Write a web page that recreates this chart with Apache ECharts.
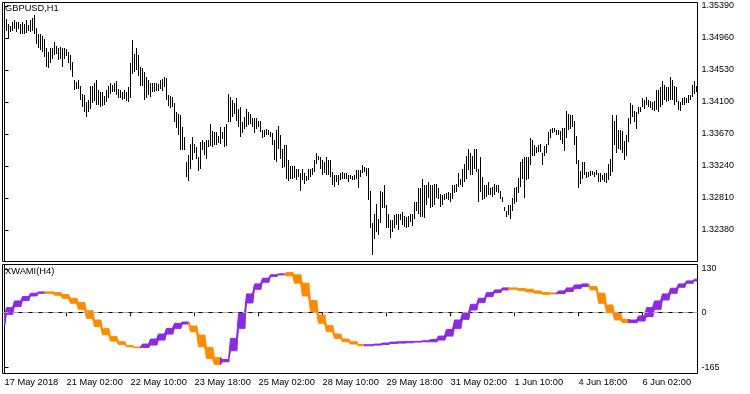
<!DOCTYPE html>
<html><head><meta charset="utf-8">
<script src="https://cdn.jsdelivr.net/npm/echarts@6/dist/echarts.min.js"></script>
<style>html,body{margin:0;padding:0;background:#fff}#c{width:750px;height:394px}</style>
</head><body><div id="c"></div>
<script>
const FONT = '"Liberation Sans", Arial, sans-serif';

// GBPUSD H1 bar highs / lows (bar 0 = first visible bar)
const highs = [
1.3524,1.3521,1.3515,1.3512,1.3518,1.3520,1.3518,1.3518,1.3515,1.3517,
1.3515,1.3520,1.3513,1.3520,1.3523,1.3527,1.3509,1.3502,1.3501,1.3499,
1.3495,1.3482,1.3477,1.3482,1.3483,1.3490,1.3485,1.3482,1.3484,1.3482,
1.3482,1.3481,1.3477,1.3473,1.3464,1.3439,1.3437,1.3439,1.3432,1.3421,
1.3419,1.3410,1.3412,1.3432,1.3432,1.3435,1.3439,1.3426,1.3423,1.3423,
1.3418,1.3426,1.3432,1.3435,1.3433,1.3436,1.3438,1.3427,1.3426,1.3423,
1.3426,1.3424,1.3430,1.3462,1.3493,1.3475,1.3482,1.3473,1.3457,1.3455,
1.3450,1.3444,1.3439,1.3435,1.3436,1.3435,1.3436,1.3434,1.3439,1.3441,
1.3444,1.3442,1.3419,1.3418,1.3417,1.3408,1.3397,1.3394,1.3392,1.3376,
1.3363,1.3329,1.3339,1.3354,1.3363,1.3354,1.3350,1.3336,1.3356,1.3359,
1.3356,1.3359,1.3359,1.3381,1.3371,1.3370,1.3370,1.3364,1.3376,1.3369,
1.3376,1.3381,1.3421,1.3417,1.3412,1.3408,1.3415,1.3401,1.3403,1.3383,
1.3390,1.3401,1.3397,1.3394,1.3388,1.3388,1.3388,1.3385,1.3384,1.3372,
1.3372,1.3374,1.3372,1.3370,1.3368,1.3359,1.3373,1.3378,1.3365,1.3347,
1.3352,1.3352,1.3332,1.3324,1.3324,1.3324,1.3320,1.3320,1.3314,1.3320,
1.3314,1.3311,1.3320,1.3320,1.3321,1.3332,1.3341,1.3338,1.3336,1.3332,
1.3329,1.3336,1.3332,1.3332,1.3316,1.3312,1.3312,1.3312,1.3314,1.3316,
1.3314,1.3314,1.3312,1.3312,1.3311,1.3312,1.3318,1.3318,1.3318,1.3325,
1.3323,1.3321,1.3321,1.3291,1.3247,1.3260,1.3273,1.3253,1.3291,1.3289,
1.3298,1.3272,1.3259,1.3251,1.3251,1.3258,1.3260,1.3259,1.3260,1.3262,
1.3257,1.3256,1.3257,1.3260,1.3259,1.3275,1.3276,1.3294,1.3294,1.3306,
1.3298,1.3298,1.3302,1.3299,1.3298,1.3300,1.3300,1.3294,1.3286,1.3285,
1.3286,1.3287,1.3289,1.3287,1.3298,1.3298,1.3300,1.3314,1.3307,1.3320,
1.3327,1.3338,1.3347,1.3341,1.3338,1.3347,1.3347,1.3320,1.3336,1.3309,
1.3298,1.3298,1.3303,1.3294,1.3296,1.3300,1.3298,1.3298,1.3291,1.3282,
1.3269,1.3264,1.3271,1.3272,1.3281,1.3294,1.3296,1.3308,1.3329,1.3333,
1.3336,1.3336,1.3336,1.3361,1.3359,1.3352,1.3350,1.3352,1.3353,1.3341,
1.3351,1.3354,1.3370,1.3374,1.3375,1.3375,1.3373,1.3372,1.3371,1.3375,
1.3375,1.3398,1.3394,1.3392,1.3393,1.3385,1.3364,1.3332,1.3317,1.3329,
1.3330,1.3316,1.3316,1.3317,1.3317,1.3316,1.3319,1.3315,1.3314,1.3312,
1.3314,1.3314,1.3327,1.3333,1.3392,1.3384,1.3392,1.3372,1.3373,1.3371,
1.3357,1.3365,1.3388,1.3408,1.3406,1.3398,1.3397,1.3403,1.3403,1.3415,
1.3412,1.3417,1.3412,1.3411,1.3410,1.3411,1.3426,1.3426,1.3430,1.3438,
1.3433,1.3430,1.3430,1.3444,1.3439,1.3432,1.3430,1.3411,1.3410,1.3415,
1.3417,1.3415,1.3419,1.3420,1.3433,1.3438,1.3432
];
const lows = [
1.3502,1.3506,1.3495,1.3504,1.3506,1.3508,1.3504,1.3508,1.3502,1.3502,
1.3501,1.3503,1.3505,1.3504,1.3505,1.3501,1.3488,1.3482,1.3480,1.3477,
1.3471,1.3457,1.3455,1.3463,1.3468,1.3473,1.3474,1.3466,1.3468,1.3457,
1.3468,1.3472,1.3463,1.3453,1.3444,1.3426,1.3428,1.3427,1.3412,1.3403,
1.3397,1.3390,1.3396,1.3401,1.3409,1.3411,1.3406,1.3406,1.3403,1.3405,
1.3406,1.3410,1.3415,1.3421,1.3423,1.3424,1.3419,1.3415,1.3415,1.3412,
1.3414,1.3411,1.3410,1.3415,1.3448,1.3450,1.3453,1.3445,1.3432,1.3432,
1.3412,1.3415,1.3419,1.3417,1.3423,1.3424,1.3425,1.3425,1.3428,1.3425,
1.3430,1.3412,1.3405,1.3402,1.3403,1.3383,1.3375,1.3365,1.3345,1.3346,
1.3345,1.3309,1.3304,1.3320,1.3332,1.3342,1.3334,1.3317,1.3320,1.3345,
1.3339,1.3333,1.3350,1.3351,1.3350,1.3352,1.3352,1.3355,1.3354,1.3360,
1.3350,1.3351,1.3383,1.3383,1.3390,1.3394,1.3385,1.3376,1.3363,1.3368,
1.3374,1.3376,1.3379,1.3381,1.3376,1.3368,1.3374,1.3376,1.3370,1.3361,
1.3363,1.3365,1.3366,1.3363,1.3352,1.3332,1.3329,1.3347,1.3334,1.3321,
1.3323,1.3307,1.3304,1.3307,1.3306,1.3308,1.3305,1.3309,1.3290,1.3305,
1.3300,1.3304,1.3305,1.3309,1.3312,1.3316,1.3327,1.3332,1.3320,1.3312,
1.3314,1.3312,1.3312,1.3309,1.3298,1.3296,1.3303,1.3298,1.3305,1.3307,
1.3306,1.3307,1.3303,1.3306,1.3305,1.3305,1.3307,1.3294,1.3309,1.3314,
1.3316,1.3311,1.3278,1.3240,1.3204,1.3226,1.3235,1.3231,1.3247,1.3267,
1.3267,1.3240,1.3240,1.3227,1.3235,1.3240,1.3244,1.3238,1.3251,1.3244,
1.3242,1.3241,1.3242,1.3249,1.3243,1.3253,1.3264,1.3259,1.3256,1.3256,
1.3254,1.3271,1.3281,1.3267,1.3269,1.3271,1.3281,1.3279,1.3269,1.3272,
1.3278,1.3280,1.3278,1.3276,1.3280,1.3287,1.3289,1.3296,1.3298,1.3296,
1.3303,1.3307,1.3318,1.3312,1.3312,1.3320,1.3316,1.3276,1.3289,1.3278,
1.3280,1.3282,1.3285,1.3285,1.3282,1.3285,1.3289,1.3287,1.3280,1.3276,
1.3264,1.3256,1.3258,1.3253,1.3264,1.3273,1.3276,1.3287,1.3296,1.3307,
1.3281,1.3305,1.3307,1.3325,1.3338,1.3338,1.3341,1.3343,1.3343,1.3325,
1.3337,1.3341,1.3352,1.3361,1.3368,1.3370,1.3366,1.3365,1.3359,1.3354,
1.3344,1.3361,1.3372,1.3374,1.3376,1.3352,1.3327,1.3294,1.3300,1.3307,
1.3312,1.3308,1.3309,1.3311,1.3312,1.3309,1.3312,1.3303,1.3302,1.3305,
1.3303,1.3301,1.3305,1.3311,1.3316,1.3352,1.3341,1.3347,1.3345,1.3341,
1.3332,1.3338,1.3356,1.3381,1.3390,1.3383,1.3374,1.3394,1.3397,1.3403,
1.3401,1.3406,1.3403,1.3402,1.3399,1.3398,1.3399,1.3396,1.3403,1.3406,
1.3412,1.3410,1.3411,1.3412,1.3412,1.3406,1.3410,1.3399,1.3398,1.3406,
1.3406,1.3408,1.3409,1.3412,1.3417,1.3421,1.3423
];

// XWAMI(H4): one value per H4 bar (4 H1 bars each)
const xwamiMain = [
-8,14,34,47,57,61,57,51,42,27,
9,-18,-43,-67,-86,-96,-103,-106,-95,-80,
-65,-48,-33,-29,-58,-103,-138,-156,-141,-78,
-3,55,85,102,112,115,109,87,49,2,
-33,-58,-78,-88,-95,-100,-97,-95,-92,-89,
-88,-87,-87,-85,-81,-71,-51,-23,-1,24,
42,59,67,73,69,65,61,57,54,55,
64,73,82,85,67,27,-1,-23,-31,-23,
-11,14,34,55,72,85,94,99
];
const xwamiSignal = [
-38,-6,17,35,49,57,61,59,53,42,
29,5,-23,-49,-72,-88,-99,-104,-105,-98,
-83,-65,-48,-35,-41,-68,-105,-136,-148,-115,
-48,28,69,90,107,112,119,112,87,35,
-8,-40,-65,-80,-88,-96,-100,-98,-96,-93,
-92,-91,-89,-88,-88,-83,-71,-48,-21,7,
29,47,59,67,73,71,69,64,59,58,
56,62,71,77,77,57,22,-3,-21,-31,
-26,-13,9,37,57,75,87,94
];

const priceTicks = [1.32380,1.32810,1.33240,1.33670,1.34100,1.34530,1.34960,1.35390];
const levelTicks = [130, 0, -165];
const timeTickBars = [0,31,63,95,127,159,191,223,255,287,319];
const timeTickLabels = ['17 May 2018','21 May 02:00','22 May 10:00','23 May 18:00','25 May 02:00',
  '28 May 10:00','29 May 18:00','31 May 02:00','1 Jun 10:00','4 Jun 18:00','6 Jun 02:00'];

const lastBar = highs.length - 1;
const barData = highs.map((h, i) => [i, h, lows[i]]);
// [firstBar, lastBar, main, signal, prevMain, prevSignal]
const segData = xwamiMain.map((m, j) => [
  Math.max(0, 4 * j - 3), Math.min(lastBar, 4 * j), m, xwamiSignal[j],
  j > 0 ? xwamiMain[j - 1] : m, j > 0 ? xwamiSignal[j - 1] : xwamiSignal[j]
]);

function renderBar(params, api) {
  const i = api.value(0);
  const a = api.coord([i, api.value(1)]);
  const b = api.coord([i, api.value(2)]);
  const x = Math.floor(a[0]);
  const y0 = Math.round(a[1]);
  const y1 = Math.max(y0 + 1, Math.round(b[1]));
  return { type: 'rect', shape: { x: x, y: y0, width: 1, height: y1 - y0 }, style: { fill: '#000' } };
}
function renderSeg(params, api) {
  const s = api.value(0), e = api.value(1), m = api.value(2), g = api.value(3);
  const pm = api.value(4), pg = api.value(5);
  const ps = s > 0 ? s - 1 : s;
  const pTop = api.coord([ps, Math.max(pm, pg)]), pBot = api.coord([ps, Math.min(pm, pg)]);
  const sTop = api.coord([s, Math.max(m, g)]), sBot = api.coord([s, Math.min(m, g)]);
  const eTop = api.coord([e, Math.max(m, g)]), eBot = api.coord([e, Math.min(m, g)]);
  const color = m >= g ? '#8A2BE2' : '#FF8C00';
  const pts = [pTop, sTop, [eTop[0] + 0.5, eTop[1]], [eBot[0] + 0.5, eBot[1]], sBot, pBot];
  return { type: 'polygon', shape: { points: pts },
    style: { fill: color, stroke: color, lineWidth: 1 } };
}

const txt = { fontFamily: FONT, fontSize: 9.3, color: '#000' };
const chart = echarts.init(document.getElementById('c'), null, { renderer: 'canvas' });
chart.setOption({
  animation: false,
  backgroundColor: '#fff',
  title: [
    { text: 'GBPUSD,H1', left: 5, top: 4, padding: 0, textStyle: Object.assign({ fontWeight: 'normal' }, txt) },
    { text: 'XWAMI(H4)', left: 5, top: 267, padding: 0, textStyle: Object.assign({ fontWeight: 'normal' }, txt) }
  ],
  grid: [
    { left: 2.5, top: 2.5, width: 695, height: 259, show: true, borderColor: '#000', borderWidth: 1, backgroundColor: '#fff' },
    { left: 2.5, top: 264.5, width: 695, height: 109, show: true, borderColor: '#000', borderWidth: 1, backgroundColor: '#fff' }
  ],
  xAxis: [
    { type: 'value', gridIndex: 0, min: -1, max: lastBar + 0.5, show: false },
    { type: 'value', gridIndex: 1, min: -1, max: lastBar + 0.5, position: 'bottom',
      axisLine: { show: true, lineStyle: { color: '#000', width: 1 } },
      axisTick: { show: true, length: 4, lineStyle: { color: '#000' }, customValues: timeTickBars },
      axisLabel: { show: true, customValues: timeTickBars, align: 'left', margin: 4,
        fontFamily: FONT, fontSize: 9.3, color: '#000',
        formatter: v => { const k = timeTickBars.indexOf(Math.round(v)); return k >= 0 ? timeTickLabels[k] : ''; } },
      splitLine: { show: false } }
  ],
  yAxis: [
    { type: 'value', gridIndex: 0, position: 'right', min: 1.31956, max: 1.35437, scale: true,
      axisLine: { show: true, lineStyle: { color: '#000', width: 1 } },
      axisTick: { show: true, length: 4, lineStyle: { color: '#000' }, customValues: priceTicks },
      axisLabel: { show: true, customValues: priceTicks, margin: 4, fontFamily: FONT, fontSize: 9, color: '#000',
        formatter: v => v.toFixed(5) },
      splitLine: { show: false } },
    { type: 'value', gridIndex: 1, position: 'right', min: -183, max: 143,
      axisLine: { show: true, lineStyle: { color: '#000', width: 1 } },
      axisTick: { show: true, length: 4, lineStyle: { color: '#000' }, customValues: levelTicks },
      axisLabel: { show: true, customValues: levelTicks, margin: 4, fontFamily: FONT, fontSize: 9, color: '#000',
        formatter: v => String(v) },
      splitLine: { show: false } }
  ],
  series: [
    { type: 'custom', name: 'GBPUSD', xAxisIndex: 0, yAxisIndex: 0, data: barData,
      encode: { x: 0, y: [1, 2] }, renderItem: renderBar, clip: true, silent: true },
    { type: 'custom', name: 'XWAMI', xAxisIndex: 1, yAxisIndex: 1, data: segData,
      encode: { x: [0, 1], y: [2, 3] }, renderItem: renderSeg, clip: true, silent: true,
      markLine: { silent: true, symbol: ['none', 'none'], label: { show: false },
        lineStyle: { color: '#a8a8a8', type: [6, 4], width: 1 }, data: [{ yAxis: 0 }] } }
  ]
});
</script></body></html>
